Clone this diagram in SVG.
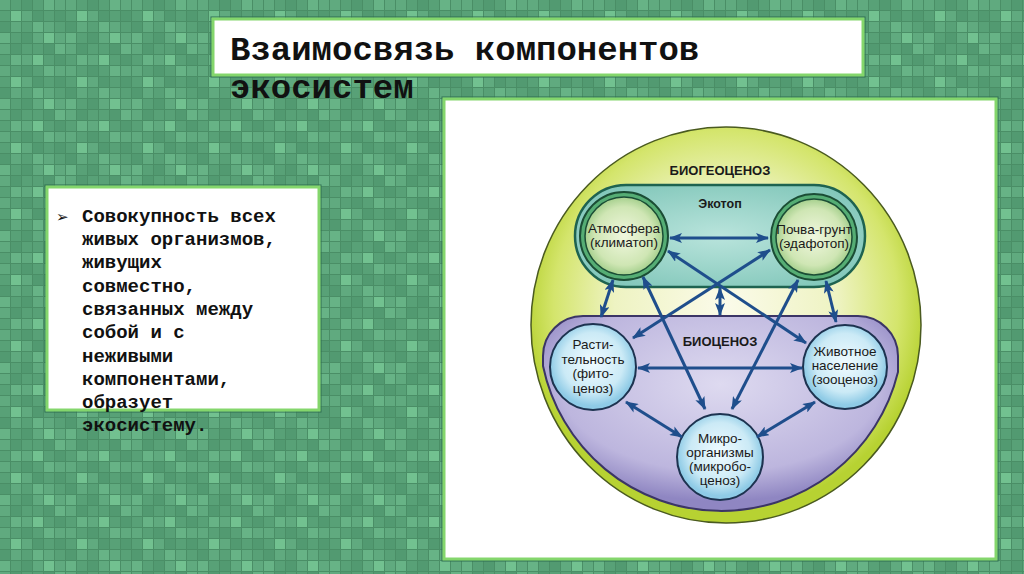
<svg xmlns="http://www.w3.org/2000/svg" width="1024" height="574" viewBox="0 0 1024 574">
  <defs>
    <pattern id="tiles" x="0" y="0" width="66" height="66" patternUnits="userSpaceOnUse">
      <rect width="66" height="66" fill="#4a8e66"/>
      <g>
        <rect x="0" y="0" width="10" height="10" fill="#60aa7f"/><rect x="11" y="0" width="10" height="10" fill="#58a177"/><rect x="22" y="0" width="10" height="10" fill="#529a71"/><rect x="33" y="0" width="10" height="10" fill="#58a177"/><rect x="44" y="0" width="10" height="10" fill="#67b386"/><rect x="55" y="0" width="10" height="10" fill="#60aa7f"/>
        <rect x="0" y="11" width="10" height="10" fill="#58a177"/><rect x="11" y="11" width="10" height="10" fill="#72c190"/><rect x="22" y="11" width="10" height="10" fill="#60aa7f"/><rect x="33" y="11" width="10" height="10" fill="#529a71"/><rect x="44" y="11" width="10" height="10" fill="#58a177"/><rect x="55" y="11" width="10" height="10" fill="#529a71"/>
        <rect x="0" y="22" width="10" height="10" fill="#529a71"/><rect x="11" y="22" width="10" height="10" fill="#60aa7f"/><rect x="22" y="22" width="10" height="10" fill="#58a177"/><rect x="33" y="22" width="10" height="10" fill="#67b386"/><rect x="44" y="22" width="10" height="10" fill="#60aa7f"/><rect x="55" y="22" width="10" height="10" fill="#58a177"/>
        <rect x="0" y="33" width="10" height="10" fill="#67b386"/><rect x="11" y="33" width="10" height="10" fill="#58a177"/><rect x="22" y="33" width="10" height="10" fill="#529a71"/><rect x="33" y="33" width="10" height="10" fill="#60aa7f"/><rect x="44" y="33" width="10" height="10" fill="#72c190"/><rect x="55" y="33" width="10" height="10" fill="#60aa7f"/>
        <rect x="0" y="44" width="10" height="10" fill="#60aa7f"/><rect x="11" y="44" width="10" height="10" fill="#529a71"/><rect x="22" y="44" width="10" height="10" fill="#58a177"/><rect x="33" y="44" width="10" height="10" fill="#58a177"/><rect x="44" y="44" width="10" height="10" fill="#529a71"/><rect x="55" y="44" width="10" height="10" fill="#67b386"/>
        <rect x="0" y="55" width="10" height="10" fill="#58a177"/><rect x="11" y="55" width="10" height="10" fill="#67b386"/><rect x="22" y="55" width="10" height="10" fill="#60aa7f"/><rect x="33" y="55" width="10" height="10" fill="#72c190"/><rect x="44" y="55" width="10" height="10" fill="#58a177"/><rect x="55" y="55" width="10" height="10" fill="#529a71"/>
      </g>
    </pattern>
    <radialGradient id="gBig" cx="50%" cy="45%" r="52%">
      <stop offset="0" stop-color="#fbfbea"/>
      <stop offset="0.55" stop-color="#eef3c2"/>
      <stop offset="0.85" stop-color="#d4e56c"/>
      <stop offset="1" stop-color="#b7d232"/>
    </radialGradient>
    <radialGradient id="gEco" cx="50%" cy="50%" r="60%">
      <stop offset="0" stop-color="#b9e4dc"/>
      <stop offset="1" stop-color="#82c7ba"/>
    </radialGradient>
    <radialGradient id="gBio" cx="50%" cy="35%" r="60%">
      <stop offset="0" stop-color="#dedaf0"/>
      <stop offset="0.75" stop-color="#bdb6de"/>
      <stop offset="1" stop-color="#8f86c2"/>
    </radialGradient>
    <radialGradient id="gGreen" cx="50%" cy="50%" r="50%">
      <stop offset="0" stop-color="#f0f7de"/>
      <stop offset="0.75" stop-color="#cfe6b4"/>
      <stop offset="1" stop-color="#a6d08e"/>
    </radialGradient>
    <radialGradient id="gBlue" cx="50%" cy="45%" r="50%">
      <stop offset="0" stop-color="#f0fbff"/>
      <stop offset="0.7" stop-color="#cbeaf6"/>
      <stop offset="1" stop-color="#8fcbe6"/>
    </radialGradient>
    <marker id="ah" viewBox="0 0 13 10" refX="12" refY="5" markerWidth="13" markerHeight="10" markerUnits="userSpaceOnUse" orient="auto-start-reverse">
      <path d="M0,0 L13,5 L0,10 L3,5 Z" fill="#1f4e8c"/>
    </marker>
    <style>
      .panel { fill: #ffffff; stroke: #84d66c; stroke-width: 3; }
      .panelOut { fill: none; stroke: #2f6e52; stroke-width: 1; }
      .mono { font-family: "Liberation Mono", "Courier New", monospace; font-weight: bold; fill: #111; }
      .lbl { font-family: "Liberation Sans", Arial, sans-serif; font-size: 13.5px; fill: #1a1a1a; text-anchor: middle; }
      .hdr { font-family: "Liberation Sans", Arial, sans-serif; font-weight: bold; fill: #1a1a1a; text-anchor: middle; }
      .gring { fill: #55ad74; stroke: #1b4d35; stroke-width: 2; }
      .ginner { fill: url(#gGreen); stroke: #1b4d35; stroke-width: 1.5; }
      .bcirc { fill: url(#gBlue); stroke: #1d3350; stroke-width: 2; }
      .arr { stroke: #1f4e8c; stroke-width: 3; fill: none; marker-start: url(#ah); marker-end: url(#ah); }
    </style>
  </defs>

  <rect width="1024" height="574" fill="url(#tiles)"/>

  <g id="title">
    <rect x="211" y="17" width="654" height="60" class="panelOut"/>
    <rect x="213" y="19" width="650" height="56" class="panel"/>
    <text class="mono" font-size="34" x="230" y="60">Взаимосвязь компонентов</text>
    <text class="mono" font-size="34" x="230" y="98">экосистем</text>
  </g>

  <g id="textbox">
    <rect x="45" y="185" width="276" height="227" class="panelOut"/>
    <rect x="47" y="187" width="272" height="223" class="panel"/>
    <text class="mono" font-size="19">
      <tspan x="56" y="222" font-family="DejaVu Sans, sans-serif" font-weight="normal" font-size="15">➢</tspan><tspan x="82" y="222">Совокупность всех</tspan>
      <tspan x="82" y="245">живых организмов,</tspan>
      <tspan x="82" y="268">живущих</tspan>
      <tspan x="82" y="292">совместно,</tspan>
      <tspan x="82" y="315">связанных между</tspan>
      <tspan x="82" y="338">собой и с</tspan>
      <tspan x="82" y="362">неживыми</tspan>
      <tspan x="82" y="385">компонентами,</tspan>
      <tspan x="82" y="408">образует</tspan>
      <tspan x="82" y="431">экосистему.</tspan>
    </text>
  </g>

  <g id="imagebox">
    <rect x="442" y="97" width="556" height="464" class="panelOut"/>
    <rect x="444" y="99" width="552" height="460" class="panel"/>
  </g>

  <g id="biogeocenoz">
    <ellipse cx="726" cy="325" rx="195" ry="198" fill="url(#gBig)" stroke="#4a5a20" stroke-width="1.5"/>
    <text class="hdr" font-size="13" x="720" y="175">БИОГЕОЦЕНОЗ</text>
  </g>

  <g id="ecotop">
    <rect x="575" y="185" width="290" height="102" rx="51" ry="51" fill="url(#gEco)" stroke="#1e6350" stroke-width="2.5"/>
    <text class="hdr" font-size="12.5" x="720" y="208">Экотоп</text>
  </g>

  <g id="biocenoz">
    <path d="M 543 366 L 543 356 A 40 40 0 0 1 583 316 L 858 316 A 40 40 0 0 1 898 356 L 898 372 A 182 182 0 0 1 543 366 Z" fill="url(#gBio)" stroke="#3b3566" stroke-width="2"/>
    <text class="hdr" font-size="13" x="720" y="346">БИОЦЕНОЗ</text>
  </g>

  <g id="atmosfera">
    <circle cx="624" cy="236" r="44" class="gring"/>
    <circle cx="624" cy="236" r="39" class="ginner"/>
    <text class="lbl" x="624" y="233">Атмосфера</text>
    <text class="lbl" x="624" y="247">(климатоп)</text>
  </g>

  <g id="pochva">
    <circle cx="814" cy="237" r="43" class="gring"/>
    <circle cx="814" cy="237" r="38" class="ginner"/>
    <text class="lbl" x="814" y="234">Почва-грунт</text>
    <text class="lbl" x="814" y="248">(эдафотоп)</text>
  </g>

  <g id="rastitelnost">
    <circle cx="593" cy="367" r="43" class="bcirc"/>
    <text class="lbl" x="593" y="349">Расти-</text>
    <text class="lbl" x="593" y="363.5">тельность</text>
    <text class="lbl" x="593" y="378">(фито-</text>
    <text class="lbl" x="593" y="392.5">ценоз)</text>
  </g>

  <g id="zhivotnoe">
    <circle cx="845" cy="367" r="42" class="bcirc"/>
    <text class="lbl" x="845" y="356">Животное</text>
    <text class="lbl" x="845" y="370">население</text>
    <text class="lbl" x="845" y="384">(зооценоз)</text>
  </g>

  <g id="mikro">
    <circle cx="720" cy="457" r="43" class="bcirc"/>
    <text class="lbl" x="720" y="443">Микро-</text>
    <text class="lbl" x="720" y="457">организмы</text>
    <text class="lbl" x="720" y="471">(микробо-</text>
    <text class="lbl" x="720" y="485">ценоз)</text>
  </g>

  <g id="connectors">
    <line class="arr" x1="670" y1="238" x2="768" y2="238"/>
    <line class="arr" x1="613" y1="280" x2="601" y2="317"/>
    <line class="arr" x1="643" y1="277" x2="705" y2="409"/>
    <line class="arr" x1="668" y1="251" x2="806" y2="343"/>
    <line class="arr" x1="770" y1="250" x2="633" y2="338"/>
    <line class="arr" x1="798" y1="280" x2="732" y2="409"/>
    <line class="arr" x1="826" y1="281" x2="836" y2="322"/>
    <line class="arr" x1="720" y1="288" x2="720" y2="315"/>
    <line class="arr" x1="638" y1="368" x2="802" y2="368"/>
    <line class="arr" x1="626" y1="402" x2="682" y2="437"/>
    <line class="arr" x1="815" y1="402" x2="757" y2="437"/>
  </g>
</svg>
